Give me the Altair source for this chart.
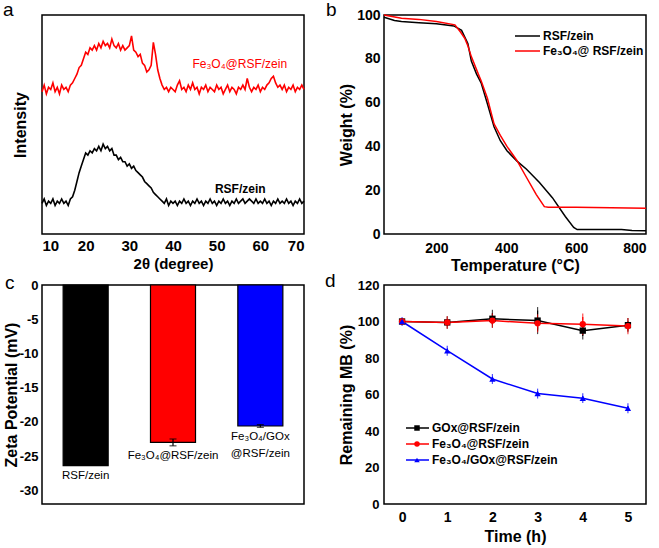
import altair as alt
import pandas as pd

FONT = "Liberation Sans"
W, H = 262, 219

# ---------------- panel a : XRD ----------------
two_theta = [round(10 + 0.5 * i, 1) for i in range(121)]
xrd_fe3o4 = [65, 68, 64, 67, 66, 69, 65, 67, 64, 68, 66, 67, 65, 68,
             69, 71, 73, 76, 77, 80, 83, 82, 85, 84,
             86, 84, 87, 85, 88, 86, 87, 85, 89, 86,
             85, 87, 84, 86, 84, 85, 86, 90.5, 84, 83,
             81, 82, 78, 77, 74, 75, 77, 87.5, 82, 75,
             71, 68, 66, 67, 65, 67, 66, 65, 68, 70,
             66, 67, 65, 68, 66, 69, 66, 67, 64, 67,
             66, 68, 65, 67, 66, 65, 68, 66, 67, 64,
             66, 68, 65, 67, 66, 64, 67, 66, 68, 66,
             71, 67, 65, 67, 66, 68, 65, 67, 66, 68,
             69, 71, 72, 69, 67, 68, 66, 68, 65, 67,
             66, 68, 65, 67, 66, 68, 66]
xrd_rsf = [14, 16, 13, 15, 14, 16, 13, 15, 14, 16,
           14, 15, 13, 16, 17, 20, 24, 28, 31, 34,
           37, 36, 38, 37, 39, 38, 40, 38, 41, 39,
           40, 38, 39, 36, 36, 34, 35, 33, 33, 31,
           32, 30, 31, 29, 28, 27, 26, 24, 23, 22,
           21, 19, 18, 17, 16, 15, 14, 16, 13, 15,
           14, 15, 13, 15, 14, 16, 14, 15, 13, 15,
           14, 16, 14, 15, 13, 15, 14, 16, 14, 15,
           13, 15, 14, 16, 14, 15, 13, 15, 14, 16,
           14, 15, 16, 14, 15, 16, 15, 14, 16, 14,
           15, 14, 16, 14, 15, 13, 15, 14, 16, 14,
           15, 14, 16, 14, 15, 13, 15, 14, 16, 14,
           15]
xrd_names = ["Fe₃O₄@RSF/zein", "RSF/zein"]

# ---------------- panel b : TGA ----------------
tga_rsf_t = [50, 80, 100, 150, 200, 250, 272, 290, 300, 315, 328, 346, 365,
             383, 402, 430, 458, 495, 532, 569, 593, 603, 620, 700, 730, 760, 800]
tga_rsf_w = [99, 97.5, 97, 96.5, 96, 95, 93, 87, 79, 73, 69, 59.5, 49,
             42.6, 38, 33.4, 29.6, 23.5, 16.6, 8, 3, 2, 2, 2, 2, 1.6, 1.5]
tga_fe_t = [50, 100, 150, 200, 253, 270, 281, 290, 300, 320, 328, 346, 365,
            383, 402, 430, 458, 486, 509, 520, 600, 700, 800]
tga_fe_w = [100, 98.5, 98, 97, 95.5, 92, 89.4, 86, 81, 73, 70, 62, 50.3,
            45, 40, 33.7, 25.8, 18, 12.5, 12.2, 12.2, 12, 11.8]
tga_names = ["RSF/zein", "Fe₃O₄@ RSF/zein"]

# ---------------- panel c : zeta potential ----------------
zeta_labels = ["RSF/zein", "Fe₃O₄@RSF/zein", "Fe₃O₄/GOx\n@RSF/zein"]
zeta_values = [-26.4, -23.0, -20.6]
zeta_err = [0.0, 0.5, 0.2]
zeta_colors = ["black", "red", "blue"]

# ---------------- panel d : remaining MB ----------------
time_h = [0, 1, 2, 3, 4, 5]
mb_names = ["GOx@RSF/zein", "Fe₃O₄@RSF/zein", "Fe₃O₄/GOx@RSF/zein"]
mb_colors = ["black", "red", "blue"]
mb_shapes = ["square", "circle", "triangle-up"]
mb_gox = [100, 99.5, 101.5, 100.5, 95, 98]
mb_gox_err = [0, 1.5, 3, 5.5, 3, 2]
mb_fe = [100, 99.5, 100.5, 99, 98.5, 97.5]
mb_fe_err = [0, 1.5, 2, 3, 4, 2.5]
mb_fegox = [100, 84, 68.5, 60.5, 58, 52.5]
mb_fegox_err = [0.5, 0.8, 0.8, 0.8, 0.8, 0.8]


def letter(ch, x, y):
    return alt.Chart(pd.DataFrame({"t": [ch]})).mark_text(
        align="left", baseline="alphabetic", fontSize=19, font=FONT, color="black"
    ).encode(x=alt.value(x), y=alt.value(y), text="t:N")


# ---------- a ----------
dfa = pd.DataFrame({
    "tt": two_theta * 2,
    "I": xrd_fe3o4 + xrd_rsf,
    "s": [xrd_names[0]] * len(two_theta) + [xrd_names[1]] * len(two_theta),
})
xa = alt.X("tt:Q", scale=alt.Scale(domain=[10, 70], nice=False),
           axis=alt.Axis(values=list(range(10, 71, 10)), title="2θ (degree)",
                         labelFontSize=15, titleFontSize=15, labelPadding=4, titlePadding=3))
ya = alt.Y("I:Q", scale=alt.Scale(domain=[0, 100], nice=False),
           axis=alt.Axis(title="Intensity", labels=False, titleFontSize=16, titlePadding=14))
lines_a = alt.Chart(dfa).mark_line(strokeWidth=1.6).encode(
    xa, ya, color=alt.Color("s:N", scale=alt.Scale(domain=xrd_names, range=["red", "black"]), legend=None)
)
ann_a1 = alt.Chart(pd.DataFrame({"t": [xrd_names[0]]})).mark_text(
    color="red", fontSize=12, font=FONT).encode(x=alt.datum(55.3), y=alt.datum(77.6), text="t:N")
ann_a2 = alt.Chart(pd.DataFrame({"t": [xrd_names[1]]})).mark_text(
    color="black", fontSize=12, fontWeight="bold", font=FONT).encode(x=alt.datum(55.4), y=alt.datum(20.5), text="t:N")
panel_a = alt.layer(lines_a, ann_a1, ann_a2, letter("a", -39, 1)).properties(width=W, height=H)

# ---------- b ----------
dfb = pd.DataFrame({
    "T": tga_rsf_t + tga_fe_t,
    "W": tga_rsf_w + tga_fe_w,
    "s": [tga_names[0]] * len(tga_rsf_t) + [tga_names[1]] * len(tga_fe_t),
})
xb = alt.X("T:Q", scale=alt.Scale(domain=[50, 800], nice=False),
           axis=alt.Axis(values=[200, 400, 600, 800], title="Temperature (°C)",
                         labelFontSize=14, titleFontSize=16, labelPadding=7, titlePadding=2))
yb = alt.Y("W:Q", scale=alt.Scale(domain=[0, 100], nice=False),
           axis=alt.Axis(values=[0, 20, 40, 60, 80, 100], title="Weight (%)",
                         labelFontSize=14, titleFontSize=16, labelPadding=4, titlePadding=2))
lines_b = alt.Chart(dfb).mark_line(strokeWidth=1.5).encode(
    xb, yb, color=alt.Color("s:N", scale=alt.Scale(domain=tga_names, range=["black", "red"]), legend=None)
)
leg_b = []
for i, (nm, col) in enumerate(zip(tga_names, ["black", "red"])):
    yy = 21 + 15 * i
    src = pd.DataFrame({"t": [nm]})
    leg_b.append(alt.Chart(src).mark_rule(color=col, strokeWidth=1.5).encode(
        x=alt.value(131), x2=alt.value(156), y=alt.value(yy)))
    leg_b.append(alt.Chart(src).mark_text(align="left", baseline="middle", fontSize=12,
                                          fontWeight="bold", font=FONT, color="black").encode(
        x=alt.value(159), y=alt.value(yy), text="t:N"))
panel_b = alt.layer(lines_b, *leg_b, letter("b", -58, 1)).properties(width=W, height=H)

# ---------- c ----------
dfc = pd.DataFrame({"cat": zeta_labels, "v": zeta_values, "e": zeta_err, "c": zeta_colors})
dfc["lo"] = dfc["v"] - dfc["e"]
dfc["hi"] = dfc["v"] + dfc["e"]
xc = alt.X("cat:N", sort=zeta_labels, scale=alt.Scale(paddingInner=0.4845, paddingOuter=0.242), axis=None)
axc = alt.Axis(values=[0, -5, -10, -15, -20, -25, -30], title="Zeta Potential (mV)",
               labelExpr="datum.value == 0 ? '0' : '-' + abs(datum.value)",
               labelFontSize=13, titleFontSize=16, labelPadding=4, titlePadding=0)
scc = alt.Scale(domain=[-32, 0], nice=False)
bars_c = alt.Chart(dfc).mark_bar(stroke="black", strokeWidth=1.2).encode(
    xc, alt.Y("v:Q", scale=scc, axis=axc), color=alt.Color("c:N", scale=None))
err_src = dfc[dfc["e"] > 0]
err_c = alt.Chart(err_src).mark_rule(color="black", strokeWidth=1.2).encode(
    xc, alt.Y("lo:Q", scale=scc, axis=axc), y2="hi:Q")
caplo_c = alt.Chart(err_src).mark_tick(color="black", size=7, thickness=1.2).encode(
    xc, alt.Y("lo:Q", scale=scc, axis=axc))
caphi_c = alt.Chart(err_src).mark_tick(color="black", size=7, thickness=1.2).encode(
    xc, alt.Y("hi:Q", scale=scc, axis=axc))
text_c = alt.Chart(dfc).mark_text(baseline="top", fontSize=11.5, font=FONT, color="black",
                                  lineBreak="\n", lineHeight=17, dy=4).encode(
    xc, alt.Y("lo:Q", scale=scc, axis=axc), text="cat:N")
panel_c = alt.layer(bars_c, err_c, caplo_c, caphi_c, text_c, letter("c", -37, 4)).properties(width=W, height=H)

# ---------- d ----------
rows = []
for nm, vals, errs in zip(mb_names, [mb_gox, mb_fe, mb_fegox], [mb_gox_err, mb_fe_err, mb_fegox_err]):
    for t, v, e in zip(time_h, vals, errs):
        rows.append({"t": t, "v": v, "lo": v - e, "hi": v + e, "s": nm})
dfd = pd.DataFrame(rows)
scd_x = alt.Scale(domain=[-0.4, 5.4], nice=False)
scd_y = alt.Scale(domain=[0, 120], nice=False)
axd_x = alt.Axis(values=time_h, title="Time (h)", labelFontSize=14, titleFontSize=16,
                 labelPadding=6, titlePadding=4)
axd_y = alt.Axis(values=[0, 20, 40, 60, 80, 100, 120], title="Remaining MB (%)",
                 labelFontSize=13, titleFontSize=16, labelPadding=5, titlePadding=3)
xd = alt.X("t:Q", scale=scd_x, axis=axd_x)
col_d = alt.Color("s:N", scale=alt.Scale(domain=mb_names, range=mb_colors), legend=None)
shp_d = alt.Shape("s:N", scale=alt.Scale(domain=mb_names, range=mb_shapes), legend=None)
err_d = alt.Chart(dfd).mark_rule(strokeWidth=1.2).encode(
    xd, alt.Y("lo:Q", scale=scd_y, axis=axd_y), y2="hi:Q", color=col_d)
caps_lo = alt.Chart(dfd).mark_tick(size=7, thickness=1.2).encode(
    xd, alt.Y("lo:Q", scale=scd_y, axis=axd_y), color=col_d)
caps_hi = alt.Chart(dfd).mark_tick(size=7, thickness=1.2).encode(
    xd, alt.Y("hi:Q", scale=scd_y, axis=axd_y), color=col_d)
lines_d = alt.Chart(dfd).mark_line(strokeWidth=1.5).encode(
    xd, alt.Y("v:Q", scale=scd_y, axis=axd_y), color=col_d,
    order=alt.Order("t:Q"))
pts_d = alt.Chart(dfd).mark_point(filled=True, size=40, opacity=1).encode(
    xd, alt.Y("v:Q", scale=scd_y, axis=axd_y), color=col_d, shape=shp_d)
leg_d = []
for i, (nm, col, shp) in enumerate(zip(mb_names, mb_colors, mb_shapes)):
    yy = 143 + 16 * i
    src = pd.DataFrame({"t": [nm]})
    leg_d.append(alt.Chart(src).mark_rule(color=col, strokeWidth=1.5).encode(
        x=alt.value(22), x2=alt.value(45), y=alt.value(yy)))
    leg_d.append(alt.Chart(src).mark_point(filled=True, size=30, color=col, shape=shp, opacity=1).encode(
        x=alt.value(33), y=alt.value(yy)))
    leg_d.append(alt.Chart(src).mark_text(align="left", baseline="middle", fontSize=12,
                                          fontWeight="bold", font=FONT, color="black").encode(
        x=alt.value(48), y=alt.value(yy), text="t:N"))
panel_d = alt.layer(err_d, caps_lo, caps_hi, lines_d, pts_d, *leg_d, letter("d", -59, 2)).properties(width=W, height=H)

chart = alt.concat(panel_a, panel_b, panel_c, panel_d, columns=2,
                   spacing={"row": 51, "column": 80}, bounds="flush").resolve_scale(
    color="independent", shape="independent"
).properties(
    padding={"left": 2, "top": 0, "right": 0, "bottom": 0}
).configure_view(
    stroke="black", strokeWidth=1.5
).configure_axis(
    labelFont=FONT, titleFont=FONT, labelFontWeight="bold", titleFontWeight="bold",
    labelColor="black", titleColor="black", grid=False, domain=False, ticks=False
).configure_text(font=FONT)

chart.save("out.html", embed_options={"renderer": "svg", "actions": False})
